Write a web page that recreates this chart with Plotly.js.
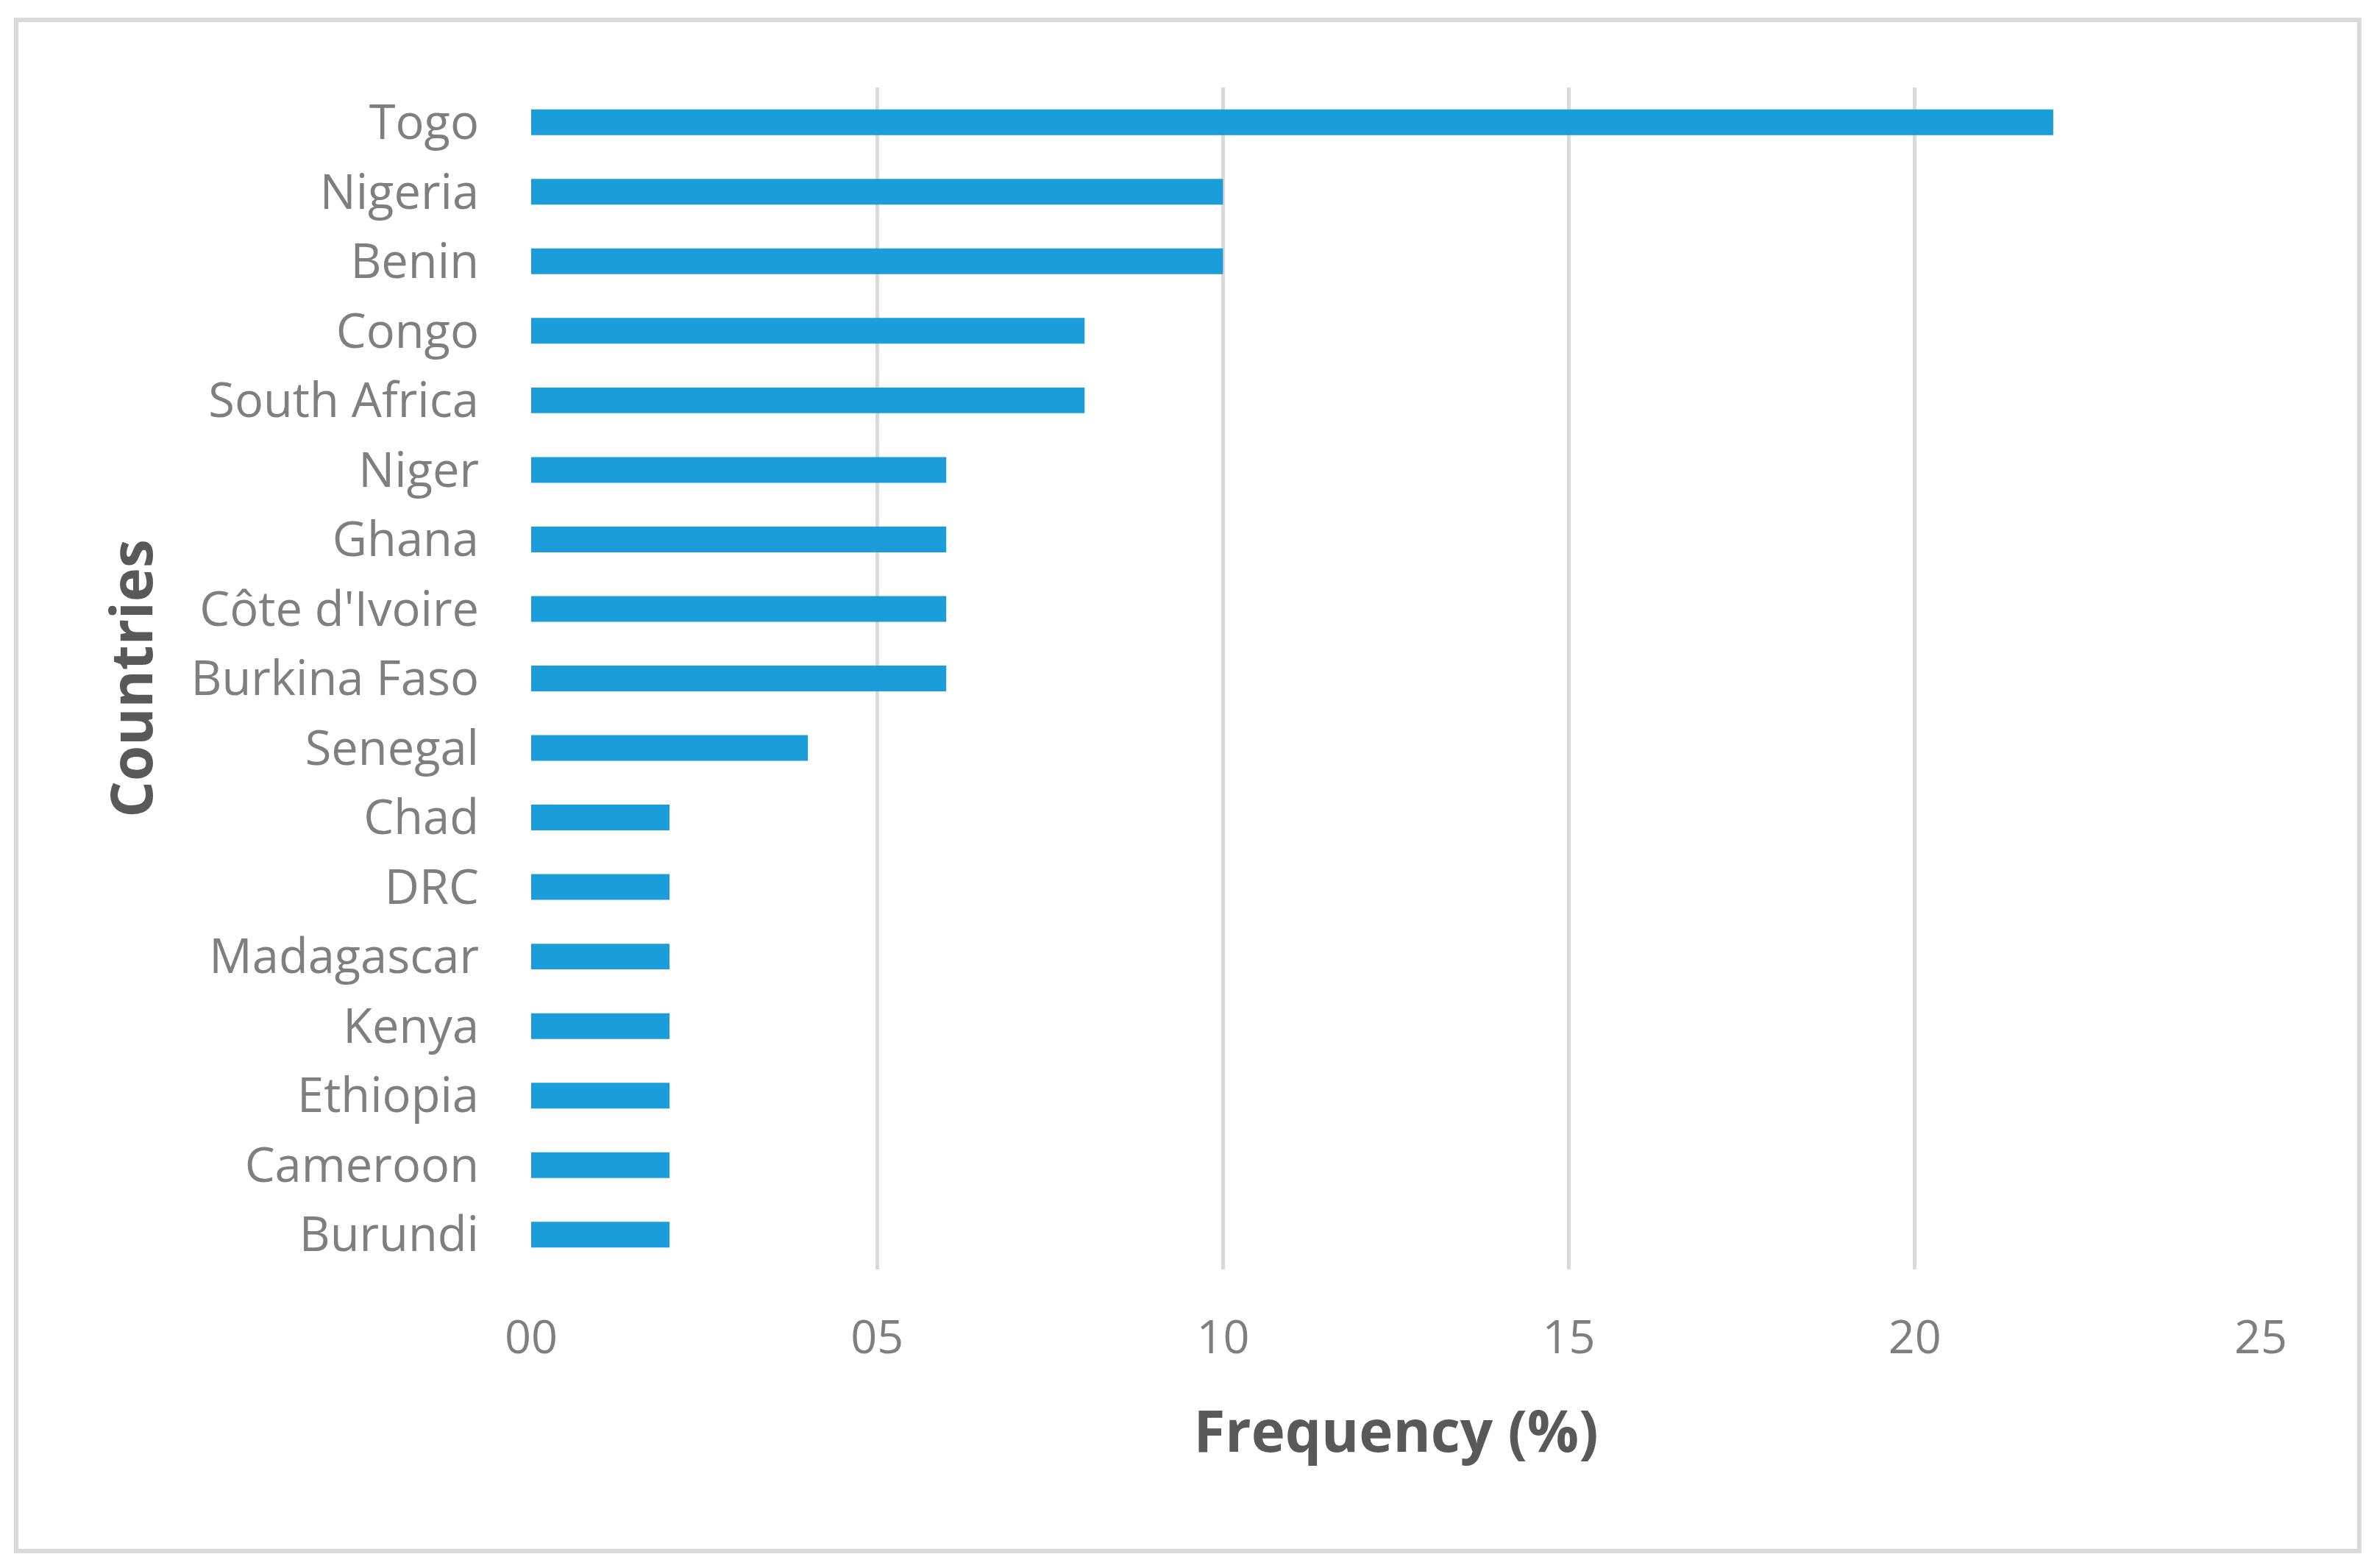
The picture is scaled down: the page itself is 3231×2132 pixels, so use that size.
<!DOCTYPE html>
<html>
<head>
<meta charset="utf-8">
<script src="https://cdn.plot.ly/plotly-3.0.1.min.js"></script>
<style>html,body{margin:0;padding:0;background:#fff;}#chart{width:3231px;height:2132px;}</style>
</head>
<body>
<div id="chart"></div>
<script>
const countries = ["Togo","Nigeria","Benin","Congo","South Africa","Niger","Ghana","Côte d'Ivoire","Burkina Faso","Senegal","Chad","DRC","Madagascar","Kenya","Ethiopia","Cameroon","Burundi"];
const frequency = [22,10,10,8,8,6,6,6,6,4,2,2,2,2,2,2,2];
const xTickVals = [0,5,10,15,20,25];
const xTickText = ["00","05","10","15","20","25"];

const W = 3231, H = 2132;
const L = 722, R = 3073, T = 119, B = 1726;
const pw = R - L, ph = B - T;
function px(x){ return (x - L) / pw; }
function py(y){ return (B - y) / ph; }

const FONT = "'Open Sans', Lato, sans-serif";

const trace = {
  type: 'bar',
  orientation: 'h',
  x: frequency,
  y: countries,
  marker: {color: '#1B9DD9'},
  width: 0.37,
  hoverinfo: 'x+y'
};

const layout = {
  width: W, height: H,
  margin: {l: L, r: W - R, t: T, b: H - B, pad: 0},
  paper_bgcolor: '#ffffff',
  plot_bgcolor: '#ffffff',
  showlegend: false,
  font: {family: FONT, color: '#7f7f7f'},
  xaxis: {
    range: [0, 25],
    tickvals: xTickVals,
    ticktext: xTickText,
    showgrid: true,
    gridcolor: '#d9d9d9',
    gridwidth: 5,
    zeroline: false,
    showline: false,
    ticks: '',
    tickfont: {family: FONT, size: 63, color: '#7f7f7f'},
    ticklabelstandoff: 50,
    title: {text: 'Frequency (%)', font: {family: FONT, size: 78, color: '#595959', weight: 'bold'}, standoff: 62},
    automargin: false,
    fixedrange: true
  },
  yaxis: {
    type: 'category',
    categoryorder: 'array',
    categoryarray: countries,
    range: [16.5, -0.5],
    showgrid: false,
    zeroline: false,
    showline: false,
    ticks: '',
    tickfont: {family: FONT, size: 65, color: '#7f7f7f'},
    ticklabelstandoff: 70,
    title: {text: 'Countries', font: {family: FONT, size: 78, color: '#595959', weight: 'bold'}, standoff: 26},
    automargin: false,
    fixedrange: true
  },
  shapes: [{
    type: 'rect', xref: 'paper', yref: 'paper',
    x0: px(22), x1: px(3207), y0: py(27), y1: py(2109),
    line: {color: '#d9d9d9', width: 6},
    fillcolor: 'rgba(0,0,0,0)',
    layer: 'below'
  }]
};

Plotly.newPlot('chart', [trace], layout, {displayModeBar: false, staticPlot: true});
</script>
</body>
</html>
